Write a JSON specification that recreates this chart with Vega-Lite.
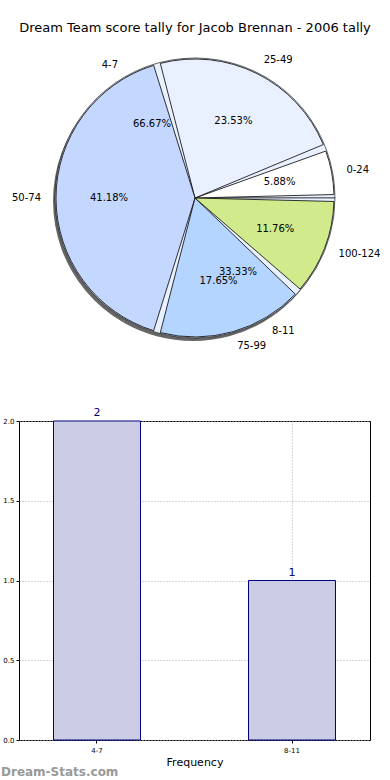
{
 "$schema": "https://vega.github.io/schema/vega-lite/v6.json",
 "padding": {"left": 0, "top": 22, "right": 0, "bottom": 0},
 "background": "white",
 "spacing": 54,
 "datasets": {
  "main": [
   {"range": "0-24", "count": 1, "idx": 1, "pct": "5.88%"},
   {"range": "25-49", "count": 4, "idx": 2, "pct": "23.53%"},
   {"range": "50-74", "count": 7, "idx": 3, "pct": "41.18%"},
   {"range": "75-99", "count": 3, "idx": 4, "pct": "17.65%"},
   {"range": "100-124", "count": 2, "idx": 5, "pct": "11.76%"}
  ],
  "sub": [
   {"range": "4-7", "count": 2, "idx": 1, "pct": "66.67%"},
   {"range": "8-11", "count": 1, "idx": 2, "pct": "33.33%"}
  ]
 },
 "config": {"font": "DejaVu Sans"},
 "vconcat": [
  {
   "width": 352,
   "height": 306,
   "title": {"text": "Dream Team score tally for Jacob Brennan - 2006 tally", "font": "DejaVu Sans", "fontSize": 13, "fontWeight": "normal", "anchor": "middle", "frame": "group", "offset": 10, "color": "black"},
   "view": {"stroke": null},
   "layer": [
    {
     "data": {"name": "sub"},
     "mark": {"type": "arc", "radius": 140, "fill": "#666666", "xOffset": -2, "yOffset": 3},
     "encoding": {
      "theta": {"field": "count", "type": "quantitative", "stack": true, "scale": {"range": [1.5708, -4.7124]}},
      "order": {"field": "idx"}
     }
    },
    {
     "data": {"name": "sub"},
     "mark": {"type": "arc", "radius": 140, "stroke": "black", "strokeWidth": 0.6},
     "encoding": {
      "theta": {"field": "count", "type": "quantitative", "stack": true, "scale": {"range": [1.5708, -4.7124]}},
      "order": {"field": "idx"},
      "color": {"field": "range", "type": "nominal", "scale": {"domain": ["4-7", "8-11"], "range": ["#e9f0fe", "#e9f0fe"]}, "legend": null}
     }
    },
    {
     "data": {"name": "main"},
     "mark": {"type": "arc", "radius": 139, "padAngle": 0.05, "stroke": "black", "strokeWidth": 0.8},
     "encoding": {
      "theta": {"field": "count", "type": "quantitative", "stack": true, "scale": {"range": [1.5708, -4.7124]}},
      "order": {"field": "idx"},
      "color": {"field": "range", "type": "nominal", "scale": {"domain": ["0-24", "25-49", "50-74", "75-99", "100-124"], "range": ["#ffffff", "#e9f0ff", "#c4d8ff", "#b4d5ff", "#d0ea8c"]}, "legend": null}
     }
    },
    {
     "data": {"name": "main"},
     "mark": {"type": "text", "radius": 86, "fontSize": 10, "color": "black"},
     "encoding": {
      "theta": {"field": "count", "type": "quantitative", "stack": true, "scale": {"range": [1.5708, -4.7124]}},
      "order": {"field": "idx"},
      "text": {"field": "pct"}
     }
    },
    {
     "data": {"name": "sub"},
     "mark": {"type": "text", "radius": 86, "fontSize": 10, "color": "black"},
     "encoding": {
      "theta": {"field": "count", "type": "quantitative", "stack": true, "scale": {"range": [1.5708, -4.7124]}},
      "order": {"field": "idx"},
      "text": {"field": "pct"}
     }
    },
    {
     "data": {"name": "main"},
     "mark": {"type": "text", "radius": 154, "fontSize": 10, "color": "black", "align": "left", "baseline": "middle"},
     "encoding": {
      "theta": {"field": "count", "type": "quantitative", "stack": true, "scale": {"range": [1.5708, -4.7124]}},
      "order": {"field": "idx"},
      "text": {"condition": {"test": "datum.range != '50-74'", "field": "range"}, "value": ""}
     }
    },
    {
     "data": {"name": "main"},
     "mark": {"type": "text", "radius": 154, "fontSize": 10, "color": "black", "align": "right", "baseline": "middle"},
     "encoding": {
      "theta": {"field": "count", "type": "quantitative", "stack": true, "scale": {"range": [1.5708, -4.7124]}},
      "order": {"field": "idx"},
      "text": {"condition": {"test": "datum.range == '50-74'", "field": "range"}, "value": ""}
     }
    },
    {
     "data": {"name": "sub"},
     "mark": {"type": "text", "radius": 154, "fontSize": 10, "color": "black", "align": "left", "baseline": "middle"},
     "encoding": {
      "theta": {"field": "count", "type": "quantitative", "stack": true, "scale": {"range": [1.5708, -4.7124]}},
      "order": {"field": "idx"},
      "text": {"condition": {"test": "datum.range == '8-11'", "field": "range"}, "value": ""}
     }
    },
    {
     "data": {"name": "sub"},
     "mark": {"type": "text", "radius": 154, "fontSize": 10, "color": "black", "align": "right", "baseline": "middle"},
     "encoding": {
      "theta": {"field": "count", "type": "quantitative", "stack": true, "scale": {"range": [1.5708, -4.7124]}},
      "order": {"field": "idx"},
      "text": {"condition": {"test": "datum.range == '4-7'", "field": "range"}, "value": ""}
     }
    }
   ],
   "resolve": {"scale": {"theta": "independent", "color": "independent"}}
  },
  {
   "width": 351,
   "height": 319,
   "view": {"stroke": "black", "strokeWidth": 1},
   "data": {"name": "sub"},
   "title": {"text": "Dream-Stats.com", "orient": "bottom", "anchor": "start", "frame": "bounds", "fontSize": 12, "fontWeight": "bold", "color": "#999999", "offset": 0},
   "layer": [
    {
     "mark": {"type": "bar", "fill": "#ccccE5", "stroke": "#000080", "strokeWidth": 1},
     "encoding": {
      "x": {"field": "range", "type": "nominal", "sort": ["4-7", "8-11"], "scale": {"paddingInner": 0.554, "paddingOuter": 0.177, "align": 0.5},
       "axis": {"title": "Frequency", "titleFontSize": 11, "titleFontWeight": "normal", "titleColor": "black", "labelFontSize": 7, "labelColor": "black", "labelAngle": 0, "labelPadding": 3, "tickSize": 3, "tickColor": "black", "domain": false, "grid": true, "gridDash": [1, 2], "gridColor": "#aaaaaa", "bandPosition": 0.5, "titlePadding": 3}},
      "y": {"field": "count", "type": "quantitative", "scale": {"domain": [0, 2]},
       "axis": {"title": null, "values": [0, 0.5, 1, 1.5, 2], "format": ".1f", "labelFontSize": 7, "labelColor": "black", "tickSize": 3, "tickColor": "black", "labelPadding": 2, "domain": false, "grid": true, "gridDash": [1, 2], "gridColor": "#aaaaaa", "minExtent": 18, "maxExtent": 18}}
     }
    },
    {
     "mark": {"type": "text", "color": "#000080", "fontSize": 11, "baseline": "bottom", "dy": -3},
     "encoding": {
      "x": {"field": "range", "type": "nominal", "sort": ["4-7", "8-11"]},
      "y": {"field": "count", "type": "quantitative"},
      "text": {"field": "count"}
     }
    }
   ]
  }
 ]
}
